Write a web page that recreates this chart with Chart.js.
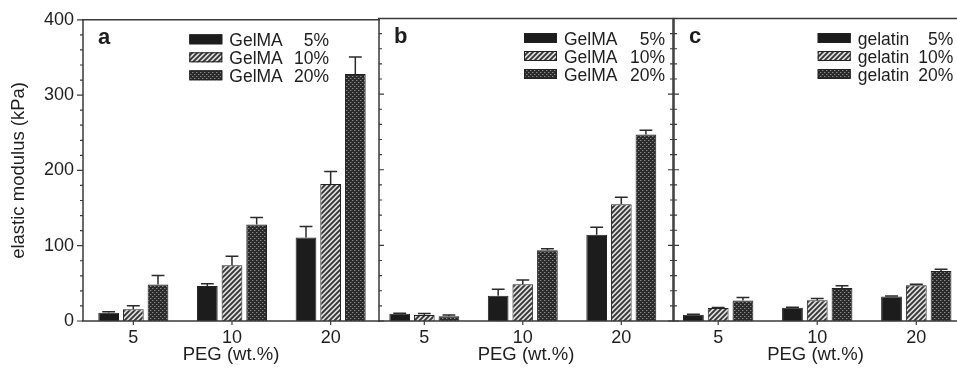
<!DOCTYPE html>
<html><head><meta charset="utf-8">
<script src="https://cdn.jsdelivr.net/npm/chart.js@4.4.1/dist/chart.umd.min.js"></script>
<style>
html,body{margin:0;padding:0;background:#fff;overflow:hidden;}
#wrap{position:relative;width:957px;height:369px;}
canvas{position:absolute;left:0;top:0;}
</style></head><body>
<div id="wrap">
<canvas id="ca" width="957" height="369"></canvas>
<canvas id="cb" width="957" height="369"></canvas>
<canvas id="cc" width="957" height="369"></canvas>
</div>
<script>
// ---- data ----
const pegLabels = ['5', '10', '20'];
const pegPositions = [1, 2, 3];
const yTickValues = [0, 100, 200, 300, 400];
const legendPct = ['5%', '10%', '20%'];
const namesA = ['GelMA', 'GelMA', 'GelMA'];
const namesB = ['GelMA', 'GelMA', 'GelMA'];
const namesC = ['gelatin', 'gelatin', 'gelatin'];

const a5 = [11, 46.5, 111];     const a5Err = [1.2, 3, 14.5];
const a10 = [15.5, 74, 182];    const a10Err = [4.7, 12, 16.5];
const a20 = [48.5, 128, 328];   const a20Err = [12, 9.5, 22.5];

const b5 = [9.7, 33.5, 114];    const b5Err = [0.6, 8.5, 10];
const b10 = [8, 48.7, 154.5];   const b10Err = [2, 5.5, 9];
const b20 = [6.2, 93.5, 246.6]; const b20Err = [1.8, 2.2, 5.7];

const c5 = [8.4, 17.6, 32.5];   const c5Err = [0.4, 0.5, 0.6];
const c10 = [17.2, 27.6, 47.4]; const c10Err = [0.8, 2.2, 1.3];
const c20 = [27.2, 43.8, 66.2]; const c20Err = [3.8, 2.7, 2.2];

// ---- styles ----
const FONT = "'Liberation Sans', Arial, Helvetica, sans-serif";
Chart.defaults.font.family = FONT;
Chart.defaults.color = '#1e1e1e';
const AXIS = '#3a3a3a';
const TXT = '#1e1e1e';

const baseCtx = document.getElementById('ca').getContext('2d');
function makeHatch() {
  const s = 5;
  const c = document.createElement('canvas'); c.width = s; c.height = s;
  const g = c.getContext('2d');
  g.fillStyle = '#dcdcdc'; g.fillRect(0, 0, s, s);
  g.strokeStyle = '#333'; g.lineWidth = 1.8;
  g.beginPath();
  g.moveTo(-1, s + 1); g.lineTo(s + 1, -1);
  g.moveTo(-1, 1); g.lineTo(1, -1);
  g.moveTo(s - 1, s + 1); g.lineTo(s + 1, s - 1);
  g.stroke();
  return baseCtx.createPattern(c, 'repeat');
}
function makeChecker() {
  const c = document.createElement('canvas'); c.width = 4; c.height = 4;
  const g = c.getContext('2d');
  g.fillStyle = '#2a2a2a'; g.fillRect(0, 0, 4, 4);
  g.fillStyle = '#8a8a8a';
  g.fillRect(0, 0, 1, 1); g.fillRect(2, 2, 1, 1);
  g.fillStyle = '#505050';
  g.fillRect(1, 0, 1, 1); g.fillRect(3, 2, 1, 1);
  return baseCtx.createPattern(c, 'repeat');
}
const fills = ['#1c1c1c', makeHatch(), makeChecker()];

function pts(vals) { return vals.map((v, i) => ({ x: pegPositions[i], y: v })); }

function datasets(vals, errs) {
  return vals.map((v, k) => ({
    data: pts(v),
    errors: errs[k],
    backgroundColor: fills[k],
    borderColor: '#222',
    borderWidth: 1,
    categoryPercentage: 0.75,
    barPercentage: 0.84
  }));
}

const panelPlugin = {
  id: 'panel',
  afterDatasetsDraw(chart) {
    const { ctx, scales: { y } } = chart;
    chart.data.datasets.forEach((ds, i) => {
      const meta = chart.getDatasetMeta(i);
      meta.data.forEach((bar, j) => {
        const v = ds.data[j].y, e = ds.errors[j];
        const yTop = y.getPixelForValue(v + e);
        const xc = bar.x, w = bar.width * 0.62;
        ctx.save();
        ctx.strokeStyle = '#2a2a2a'; ctx.lineWidth = 1.5;
        ctx.beginPath();
        ctx.moveTo(xc, bar.y); ctx.lineTo(xc, yTop);
        ctx.moveTo(xc - w / 2, yTop); ctx.lineTo(xc + w / 2, yTop);
        ctx.stroke();
        ctx.restore();
      });
    });
  },
  afterDraw(chart, args, o) {
    const { ctx, chartArea: a, scales: { x, y } } = chart;
    ctx.save();
    ctx.strokeStyle = AXIS; ctx.lineWidth = 1.5;
    ctx.beginPath();
    ctx.moveTo(a.left - 1, a.top); ctx.lineTo(a.right + 1, a.top);
    ctx.moveTo(a.left - 1, a.bottom); ctx.lineTo(a.right + 1, a.bottom);
    if (o.frameLeft) { ctx.moveTo(a.left, a.top); ctx.lineTo(a.left, a.bottom); }
    if (o.frameRight) { ctx.moveTo(a.right, a.top); ctx.lineTo(a.right, a.bottom); }
    ctx.stroke();
    // y ticks
    ctx.lineWidth = 1.2;
    ctx.beginPath();
    (o.yTickSides || []).forEach(side => {
      const bx = side.at === 'left' ? a.left : a.right;
      for (let v = 0; v <= 400; v += 20) {
        const py = y.getPixelForValue(v);
        const len = v % 100 === 0 ? side.major : side.minor;
        ctx.moveTo(bx, py); ctx.lineTo(bx + side.dir * len, py);
      }
    });
    // x ticks
    pegPositions.forEach(p => {
      const px = x.getPixelForValue(p);
      ctx.moveTo(px, a.bottom); ctx.lineTo(px, a.bottom + 4);
    });
    ctx.stroke();
    // panel letter
    ctx.fillStyle = TXT;
    ctx.font = 'bold 22px ' + FONT;
    ctx.textBaseline = 'alphabetic'; ctx.textAlign = 'left';
    ctx.fillText(o.letter, a.left + 15, a.top + 24.5);
    // legend
    const bx = a.left + o.legendBoxX;
    ctx.font = '17.5px ' + FONT;
    chart.data.datasets.forEach((ds, k) => {
      const cy = a.top + 19.5 + k * 18;
      ctx.fillStyle = ds.backgroundColor;
      ctx.fillRect(bx, cy - 5, 33, 10);
      ctx.strokeStyle = '#222'; ctx.lineWidth = 1;
      ctx.strokeRect(bx + 0.5, cy - 4.5, 32, 9);
      ctx.fillStyle = TXT;
      ctx.textAlign = 'left';
      ctx.fillText(o.names[k], bx + 40, cy + 6.5);
      ctx.textAlign = 'right';
      ctx.fillText(legendPct[k], bx + o.pctRight, cy + 6.5);
    });
    ctx.restore();
  }
};

function makeChart(id, vals, errs, cfg) {
  new Chart(document.getElementById(id), {
    type: 'bar',
    data: { datasets: datasets(vals, errs) },
    plugins: [panelPlugin],
    options: {
      responsive: false,
      animation: false,
      layout: { padding: { left: cfg.padLeft, right: cfg.padRight, top: 18.5, bottom: 0 } },
      plugins: {
        legend: { display: false },
        tooltip: { enabled: false },
        panel: cfg.panel
      },
      scales: {
        x: {
          type: 'linear',
          min: cfg.xMin, max: cfg.xMax,
          offset: false,
          grid: { display: false, drawTicks: false },
          border: { display: false },
          afterBuildTicks: s => { s.ticks = pegPositions.map(v => ({ value: v })); },
          afterFit: s => { s.height = 48; },
          ticks: {
            font: { size: 18 }, color: TXT, padding: 6,
            maxRotation: 0, autoSkip: false,
            callback: v => pegLabels[pegPositions.indexOf(v)]
          },
          title: { display: true, text: 'PEG (wt.%)', font: { size: 18.5 }, color: TXT, padding: { top: 0, bottom: 3 } }
        },
        y: {
          display: cfg.showY,
          min: 0, max: 400,
          grid: { display: false, drawTicks: false },
          border: { display: false },
          afterBuildTicks: s => { s.ticks = yTickValues.map(v => ({ value: v })); },
          afterFit: s => { if (cfg.showY) s.width = 83; },
          ticks: { font: { size: 18 }, color: TXT, padding: 9 },
          title: { display: cfg.showY, text: 'elastic modulus (kPa)', font: { size: 18.5 }, color: TXT, padding: { top: 8, bottom: 0 } }
        }
      }
    }
  });
}

makeChart('ca', [a5, a10, a20], [a5Err, a10Err, a20Err], {
  padLeft: 0, padRight: 957 - 379, showY: true, xMin: 0.49, xMax: 3.49,
  panel: { letter: 'a', frameLeft: true, frameRight: false, names: namesA, legendBoxX: 106.3, pctRight: 139.7,
    yTickSides: [{ at: 'left', dir: -1, major: 6, minor: 3 }] }
});
makeChart('cb', [b5, b10, b20], [b5Err, b10Err, b20Err], {
  padLeft: 379, padRight: 957 - 673, showY: false, xMin: 0.54, xMax: 3.525,
  panel: { letter: 'b', frameLeft: true, frameRight: true, names: namesB, legendBoxX: 145, pctRight: 141,
    yTickSides: [{ at: 'left', dir: 1, major: 5, minor: 3 }, { at: 'right', dir: -1, major: 5, minor: 3 }] }
});
makeChart('cc', [c5, c10, c20], [c5Err, c10Err, c20Err], {
  padLeft: 674, padRight: 0, showY: false, xMin: 0.554, xMax: 3.411,
  panel: { letter: 'c', frameLeft: true, frameRight: false, names: namesC, legendBoxX: 143.7, pctRight: 135.6,
    yTickSides: [{ at: 'left', dir: 1, major: 5, minor: 3 }] }
});
</script>
</body></html>
